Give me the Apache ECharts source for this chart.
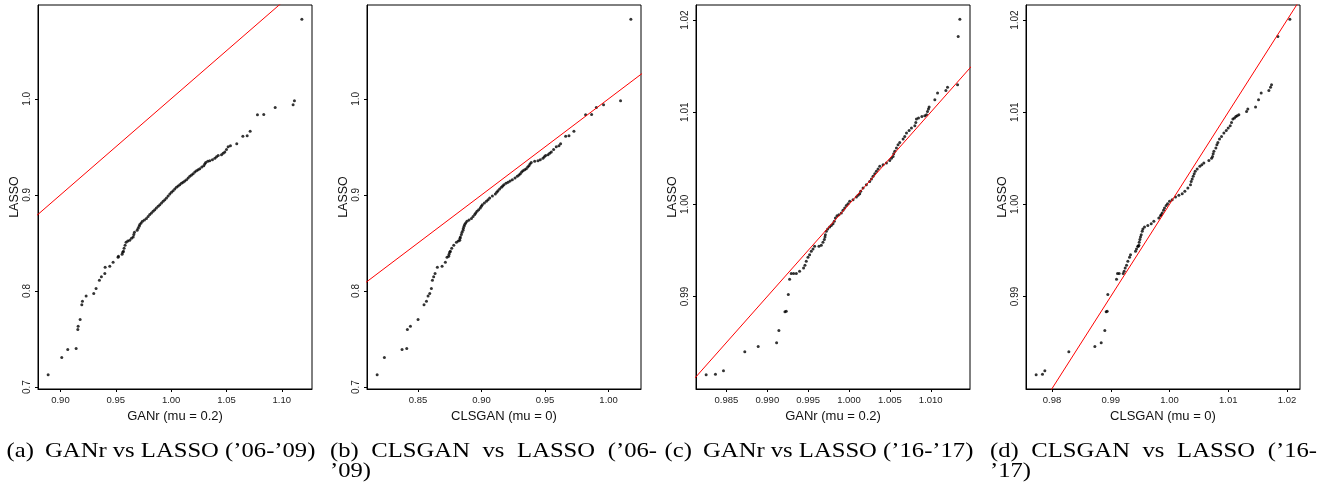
<!DOCTYPE html>
<html><head><meta charset="utf-8">
<script src="https://cdn.jsdelivr.net/npm/echarts@6/dist/echarts.min.js"></script>
<style>html,body{margin:0;padding:0;background:#fff}#c{width:1325px;height:491px}</style>
</head><body><div id="c"></div>
<script>
// ---- data: sorted quantiles ----
const lassoEarly = [0.7128,0.7308,0.7392,0.7402,0.7599,0.7634,0.7703,0.7856,0.7894,0.7949,
0.7974,0.8025,0.8112,0.8147,0.8181,0.8247,0.8258,0.8299,0.8351,0.8362,
0.8382,0.8403,0.8413,0.8445,0.8476,0.8507,0.8521,0.8528,0.8549,0.8562,
0.8587,0.8611,0.8632,0.8652,0.8673,0.8691,0.8708,0.8725,0.8739,0.8753,
0.8774,0.8795,0.8812,0.8829,0.8846,0.8864,0.8881,0.8898,0.8916,0.8933,
0.8950,0.8968,0.8989,0.9009,0.9027,0.9044,0.9061,0.9079,0.9092,0.9106,
0.9120,0.9131,0.9144,0.9158,0.9176,0.9193,0.9207,0.9221,0.9238,0.9252,
0.9262,0.9273,0.9290,0.9304,0.9321,0.9338,0.9349,0.9356,0.9366,0.9380,
0.9397,0.9411,0.9418,0.9432,0.9446,0.9473,0.9501,0.9512,0.9532,0.9609,
0.9615,0.9661,0.9834,0.9837,0.9910,0.9938,0.9979,1.0828];
const ganrEarly = [0.8889,0.9012,0.9066,0.9142,0.9157,0.9160,0.9178,0.9193,0.9199,0.9232,
0.9301,0.9322,0.9352,0.9370,0.9401,0.9404,0.9446,0.9476,0.9521,0.9524,
0.9557,0.9563,0.9569,0.9575,0.9584,0.9593,0.9608,0.9626,0.9642,0.9657,
0.9663,0.9669,0.9693,0.9702,0.9711,0.9717,0.9729,0.9741,0.9759,0.9777,
0.9792,0.9807,0.9822,0.9837,0.9852,0.9867,0.9883,0.9898,0.9913,0.9928,
0.9943,0.9958,0.9973,0.9988,1.0003,1.0018,1.0033,1.0048,1.0063,1.0078,
1.0093,1.0108,1.0123,1.0139,1.0154,1.0169,1.0184,1.0199,1.0214,1.0229,
1.0244,1.0259,1.0277,1.0295,1.0304,1.0313,1.0331,1.0349,1.0373,1.0395,
1.0410,1.0425,1.0455,1.0470,1.0485,1.0500,1.0515,1.0536,1.0593,1.0648,
1.0687,1.0714,1.0780,1.0837,1.0940,1.1102,1.1114,1.1181];
const clsganEarly = [0.8178,0.8235,0.8374,0.8411,0.8416,0.8440,0.8500,0.8547,0.8566,0.8579,
0.8592,0.8605,0.8613,0.8623,0.8634,0.8652,0.8689,0.8715,0.8728,0.8741,
0.8744,0.8749,0.8754,0.8765,0.8781,0.8802,0.8817,0.8828,0.8830,0.8833,
0.8841,0.8846,0.8854,0.8857,0.8862,0.8867,0.8875,0.8885,0.8901,0.8920,
0.8933,0.8946,0.8954,0.8964,0.8977,0.8990,0.8998,0.9006,0.9022,0.9038,
0.9051,0.9064,0.9085,0.9108,0.9119,0.9129,0.9142,0.9156,0.9166,0.9176,
0.9192,0.9208,0.9224,0.9242,0.9263,0.9281,0.9294,0.9305,0.9315,0.9326,
0.9339,0.9352,0.9363,0.9373,0.9381,0.9391,0.9418,0.9444,0.9462,0.9483,
0.9494,0.9504,0.9523,0.9536,0.9549,0.9567,0.9588,0.9609,0.9622,0.9662,
0.9688,0.9727,0.9819,0.9866,0.9903,0.9960,1.0094,1.0175];
const lassoLate = [0.98150,0.98157,0.98193,0.98399,0.98457,0.98497,0.98630,0.98833,0.98840,0.99021,
0.99187,0.99248,0.99248,0.99248,0.99274,0.99310,0.99339,0.99382,0.99425,0.99454,
0.99490,0.99516,0.99545,0.99545,0.99555,0.99588,0.99617,0.99646,0.99671,0.99707,
0.99733,0.99754,0.99769,0.99790,0.99816,0.99852,0.99877,0.99888,0.99906,0.99935,
0.99960,0.99986,1.00007,1.00033,1.00051,1.00080,1.00098,1.00116,1.00141,1.00177,
1.00213,1.00249,1.00275,1.00304,1.00332,1.00358,1.00383,1.00412,1.00430,1.00448,
1.00477,1.00499,1.00520,1.00549,1.00575,1.00611,1.00647,1.00672,1.00708,1.00737,
1.00773,1.00802,1.00828,1.00853,1.00889,1.00925,1.00936,1.00954,1.00961,1.00972,
1.01008,1.01034,1.01055,1.01135,1.01207,1.01236,1.01272,1.01297,1.01821,1.02009];
const ganrLate = [0.98252,0.98366,0.98464,0.98725,0.98889,0.99114,0.99142,0.99216,0.99232,0.99257,
0.99273,0.99293,0.99322,0.99355,0.99395,0.99444,0.99461,0.99477,0.99498,0.99518,
0.99538,0.99559,0.99579,0.99632,0.99661,0.99681,0.99698,0.99706,0.99710,0.99722,
0.99739,0.99763,0.99783,0.99804,0.99820,0.99833,0.99853,0.99877,0.99906,0.99926,
0.99947,0.99967,0.99988,1.00008,1.00049,1.00090,1.00110,1.00131,1.00143,1.00172,
1.00212,1.00253,1.00274,1.00294,1.00315,1.00335,1.00355,1.00376,1.00417,1.00458,
1.00498,1.00519,1.00539,1.00547,1.00560,1.00580,1.00600,1.00621,1.00662,1.00682,
1.00703,1.00735,1.00764,1.00805,1.00817,1.00825,1.00850,1.00891,1.00927,1.00948,
1.00960,1.00972,1.00980,1.01050,1.01083,1.01185,1.01205,1.01328,1.01336,1.01356];
const clsganLate = [0.97730,0.97838,0.97878,0.98286,0.98729,0.98837,0.98899,0.98922,0.98939,0.98950,
0.99098,0.99115,0.99143,0.99211,0.99228,0.99245,0.99268,0.99291,0.99319,0.99336,
0.99421,0.99438,0.99461,0.99467,0.99478,0.99484,0.99495,0.99506,0.99518,0.99535,
0.99546,0.99574,0.99631,0.99688,0.99733,0.99818,0.99847,0.99858,0.99875,0.99898,
0.99915,0.99943,0.99966,1.00000,1.00045,1.00102,1.00159,1.00216,1.00261,1.00312,
1.00357,1.00369,1.00386,1.00403,1.00420,1.00437,1.00471,1.00516,1.00550,1.00584,
1.00670,1.00715,1.00732,1.00743,1.00755,1.00789,1.00806,1.00823,1.00851,1.00885,
1.00925,1.00965,1.00999,1.01033,1.01055,1.01078,1.01106,1.01129,1.01152,1.01180,
1.01311,1.01333,1.01464,1.01515,1.01560,1.01691,1.01719,1.01736,1.01844,1.02048];

// ---- tick values and labels ----
const xTicksA = [0.90,0.95,1.00,1.05,1.10];
const xLabelsA = ['0.90','0.95','1.00','1.05','1.10'];
const xTicksB = [0.85,0.90,0.95,1.00];
const xLabelsB = ['0.85','0.90','0.95','1.00'];
const xTicksC = [0.985,0.990,0.995,1.000,1.005,1.010];
const xLabelsC = ['0.985','0.990','0.995','1.000','1.005','1.010'];
const xTicksD = [0.98,0.99,1.00,1.01,1.02];
const xLabelsD = ['0.98','0.99','1.00','1.01','1.02'];
const yTicksEarly = [0.7,0.8,0.9,1.0];
const yLabelsEarly = ['0.7','0.8','0.9','1.0'];
const yTicksLate = [0.99,1.00,1.01,1.02];
const yLabelsLate = ['0.99','1.00','1.01','1.02'];

const xNames = ['GANr (mu = 0.2)','CLSGAN (mu = 0)','GANr (mu = 0.2)','CLSGAN (mu = 0)'];
const yName = 'LASSO';
const captionLabels = ['(a)','(b)','(c)','(d)'];
const captionTexts = ['GANr vs LASSO (’06-’09)','CLSGAN vs LASSO (’06-’09)','GANr vs LASSO (’16-’17)','CLSGAN vs LASSO (’16-’17)'];

// ---- layout ----
const panels = [
  {left:38,  x:ganrEarly,   y:lassoEarly, xt:xTicksA, xl:xLabelsA, yt:yTicksEarly, yl:yLabelsEarly},
  {left:367, x:clsganEarly, y:lassoEarly, xt:xTicksB, xl:xLabelsB, yt:yTicksEarly, yl:yLabelsEarly},
  {left:696, x:ganrLate,    y:lassoLate,  xt:xTicksC, xl:xLabelsC, yt:yTicksLate,  yl:yLabelsLate},
  {left:1026,x:clsganLate,  y:lassoLate,  xt:xTicksD, xl:xLabelsD, yt:yTicksLate,  yl:yLabelsLate}
];
const GW = 274, GT = 5, GH = 384;
const SANS = '"Liberation Sans", Arial, Helvetica, sans-serif';
const SERIF = '"Liberation Serif", "Times New Roman", serif';

function rng(a){ const lo=Math.min(...a), hi=Math.max(...a), e=(hi-lo)*0.04; return [lo-e, hi+e]; }
function fmt(ticks, labels){ return v => { const i = ticks.findIndex(t => Math.abs(t-v) < 1e-9); return i>=0 ? labels[i] : ''; }; }

const grid=[], xAxis=[], yAxis=[], series=[];
panels.forEach((p,i)=>{
  const xr = rng(p.x), yr = rng(p.y);
  grid.push({left:p.left, top:GT, width:GW, height:GH, show:true, borderColor:'#000', borderWidth:1, containLabel:false});
  xAxis.push({type:'value', gridIndex:i, min:xr[0], max:xr[1], scale:true,
    axisLine:{show:true, onZero:false, lineStyle:{color:'#000', width:1}},
    axisTick:{show:true, inside:false, length:3, customValues:p.xt, lineStyle:{color:'#000'}},
    axisLabel:{show:true, customValues:p.xt, formatter:fmt(p.xt,p.xl), fontSize:9.5, margin:6, color:'#222', fontFamily:SANS},
    splitLine:{show:false},
    name:xNames[i], nameLocation:'middle', nameGap:17,
    nameTextStyle:{fontSize:13, color:'#111', fontFamily:SANS, lineHeight:13}
  });
  yAxis.push({type:'value', gridIndex:i, min:yr[0], max:yr[1], scale:true,
    axisLine:{show:true, onZero:false, lineStyle:{color:'#000', width:1}},
    axisTick:{show:true, inside:false, length:3, customValues:p.yt, lineStyle:{color:'#000'}},
    axisLabel:{show:true, customValues:p.yt, formatter:fmt(p.yt,p.yl), rotate:90, fontSize:10, margin:6, color:'#222', fontFamily:SANS, lineHeight:10},
    splitLine:{show:false},
    name:yName, nameLocation:'middle', nameRotate:90, nameGap:17,
    nameTextStyle:{fontSize:12.5, color:'#111', fontFamily:SANS, lineHeight:12}
  });
  series.push({type:'scatter', xAxisIndex:i, yAxisIndex:i, symbol:'circle', symbolSize:3,
    itemStyle:{color:'#000'}, silent:true, z:2,
    data:p.x.map((v,k)=>[v,p.y[k]])});
  const lo = Math.min(xr[0],yr[0]), hi = Math.max(xr[1],yr[1]);
  series.push({type:'line', xAxisIndex:i, yAxisIndex:i, showSymbol:false, clip:true, silent:true, z:3,
    lineStyle:{color:'#ff0000', width:1}, data:[[lo,lo],[hi,hi]]});
});

// ---- captions (LaTeX-style subcaptions) ----
const CF = 22, SX = 1.12;
const font = CF + 'px ' + SERIF;
const ctx = document.createElement('canvas').getContext('2d');
ctx.font = font;
const W = s => ctx.measureText(s).width * SX;
const graphic = [];
const L1 = 451, L2 = 471;
function txt(s, x, y){ graphic.push({type:'text', x:x, y:y, scaleX:SX, style:{text:s, font, fill:'#000', align:'left', verticalAlign:'middle'}}); }
function single(label, text, cx){
  const gap = CF*0.45*SX;
  const total = W(label) + gap + W(text);
  const x0 = cx - total/2;
  txt(label, x0, L1);
  txt(text, x0+W(label)+gap, L1);
}
function justified(label, text, x0, x1){
  const parts = text.split(' ');
  const last = parts[parts.length-1];
  const cut = last.indexOf('-')+1;
  const words = [label].concat(parts.slice(0,-1), [last.slice(0,cut)]);
  const rest = last.slice(cut);
  const sumW = words.reduce((s,w)=>s+W(w),0);
  const gap = (x1-x0-sumW)/(words.length-1);
  let x = x0;
  words.forEach(w=>{ txt(w, x, L1); x += W(w)+gap; });
  txt(rest, x0, L2);
}
single(captionLabels[0], captionTexts[0], 161);
justified(captionLabels[1], captionTexts[1], 330, 657);
single(captionLabels[2], captionTexts[2], 819);
justified(captionLabels[3], captionTexts[3], 990, 1317);

const chart = echarts.init(document.getElementById('c'), null, {renderer:'canvas'});
chart.setOption({animation:false, backgroundColor:'#fff', grid, xAxis, yAxis, series, graphic});
</script></body></html>
